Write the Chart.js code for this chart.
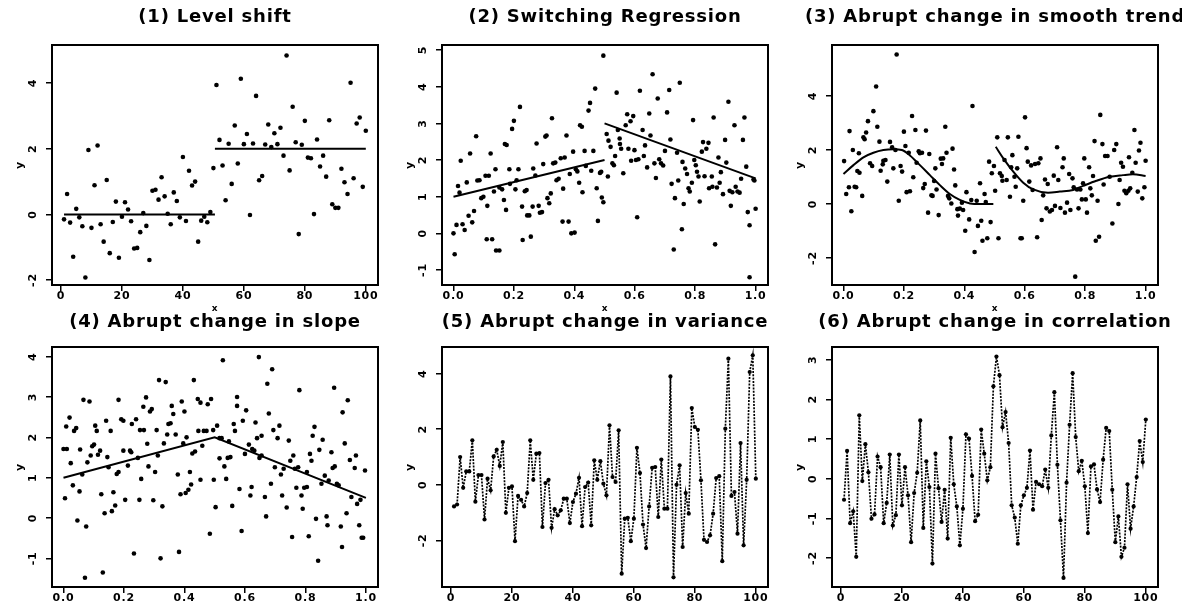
<!DOCTYPE html>
<html>
<head>
<meta charset="utf-8">
<script src="https://cdn.jsdelivr.net/npm/chart.js@4.4.1/dist/chart.umd.min.js"></script>
<style>
  html, body { margin: 0; padding: 0; background: #fff; width: 1182px; height: 608px; overflow: hidden; position: relative; }
  canvas { position: absolute; }
</style>
</head>
<body>
<canvas id="p1"></canvas>
<canvas id="p2"></canvas>
<canvas id="p3"></canvas>
<canvas id="p4"></canvas>
<canvas id="p5"></canvas>
<canvas id="p6"></canvas>
<script>
// ---------- titles ----------
const titles = [
  '(1) Level shift',
  '(2) Switching Regression',
  '(3) Abrupt change in smooth trend',
  '(4) Abrupt change in slope',
  '(5) Abrupt change in variance',
  '(6) Abrupt change in correlation'
];

// ---------- tick values and labels ----------
const xTicksIndex = [0, 20, 40, 60, 80, 100];
const xLabelsIndex = ['0', '20', '40', '60', '80', '100'];
const xTicksUnit = [0, 0.2, 0.4, 0.6, 0.8, 1.0];
const xLabelsUnit = ['0.0', '0.2', '0.4', '0.6', '0.8', '1.0'];
const yTicks1 = [-2, 0, 2, 4];
const yTicks2 = [-1, 0, 1, 2, 3, 4, 5];
const yTicks3 = [-2, 0, 2, 4];
const yTicks4 = [-1, 0, 1, 2, 3, 4];
const yTicks5 = [-2, 0, 2, 4];
const yTicks6 = [-2, -1, 0, 1, 2, 3];

// ---------- (1) level shift: y at t = 1..100 ----------
const y1 = [
  -0.15, 0.62, -0.25, -1.29, 0.17, -0.09, -0.36, -1.92, 1.96, -0.41,
  0.89, 2.10, -0.30, -0.83, 1.05, -1.18, -0.23, 0.39, -1.32, -0.07,
  0.37, 0.15, -0.21, -1.04, -1.02, -0.54, 0.04, -0.35, -1.39, 0.72,
  0.75, 0.45, 1.13, 0.55, 0.02, -0.30, 0.67, 0.41, -0.09, 1.75,
  -0.20, 1.33, 0.88, 1.00, -0.83, -0.19, -0.07, -0.24, 0.07, 1.41,
  3.94, 2.27, 1.49, 0.43, 2.15, 0.93, 2.71, 1.55, 4.13, 2.14,
  2.45, -0.02, 2.16, 3.61, 1.04, 1.17, 2.13, 2.74, 2.05, 2.47,
  2.14, 2.64, 1.79, 4.84, 1.34, 3.28, 2.20, -0.60, 2.12, 2.85,
  1.73, 1.71, 0.01, 2.28, 1.46, 1.79, 1.15, 2.87, 0.31, 0.20,
  0.20, 1.39, 0.98, 0.62, 4.01, 1.10, 2.77, 2.95, 0.84, 2.55
];
const fit1aX = [1, 50.5];
const fit1aY = [0, 0];
const fit1bX = [50.5, 100];
const fit1bY = [2, 2];

// ---------- (2) switching regression ----------
const x2 = [
  0.000, 0.004, 0.010, 0.015, 0.020, 0.024, 0.030, 0.037, 0.044, 0.050,
  0.055, 0.062, 0.068, 0.075, 0.079, 0.086, 0.092, 0.099, 0.106, 0.110,
  0.112, 0.117, 0.123, 0.128, 0.134, 0.139, 0.141, 0.152, 0.152, 0.161,
  0.167, 0.170, 0.174, 0.176, 0.185, 0.187, 0.194, 0.200, 0.205, 0.209,
  0.215, 0.220, 0.227, 0.229, 0.236, 0.242, 0.244, 0.251, 0.256, 0.262,
  0.264, 0.271, 0.275, 0.282, 0.286, 0.293, 0.297, 0.304, 0.308, 0.311,
  0.317, 0.322, 0.326, 0.330, 0.337, 0.341, 0.348, 0.355, 0.361, 0.363,
  0.368, 0.374, 0.381, 0.385, 0.390, 0.396, 0.401, 0.405, 0.410, 0.416,
  0.419, 0.425, 0.427, 0.434, 0.438, 0.447, 0.452, 0.456, 0.463, 0.469,
  0.474, 0.478, 0.485, 0.489, 0.491, 0.496, 0.496, 0.507, 0.511, 0.513,
  0.520, 0.526, 0.531, 0.535, 0.540, 0.544, 0.550, 0.551, 0.555, 0.562,
  0.570, 0.575, 0.579, 0.586, 0.588, 0.595, 0.599, 0.604, 0.608, 0.612,
  0.617, 0.626, 0.630, 0.634, 0.641, 0.648, 0.652, 0.659, 0.665, 0.670,
  0.676, 0.681, 0.687, 0.694, 0.700, 0.707, 0.714, 0.718, 0.722, 0.729,
  0.733, 0.740, 0.744, 0.749, 0.756, 0.758, 0.762, 0.767, 0.773, 0.778,
  0.782, 0.789, 0.793, 0.797, 0.802, 0.806, 0.811, 0.815, 0.822, 0.826,
  0.831, 0.837, 0.844, 0.846, 0.855, 0.857, 0.861, 0.866, 0.872, 0.877,
  0.881, 0.885, 0.892, 0.899, 0.903, 0.910, 0.914, 0.918, 0.923, 0.930,
  0.934, 0.940, 0.947, 0.952, 0.958, 0.963, 0.969, 0.974, 0.980, 0.980,
  0.993, 0.996, 1.000
];
const y2 = [
  0.00, -0.57, 0.23, 1.29, 1.11, 1.98, 0.25, 0.09, 1.39, 0.48,
  2.18, 0.30, 0.61, 2.65, 1.44, 1.45, 0.96, 1.00, 1.57, -0.16,
  0.75, 1.57, 2.18, -0.16, 1.14, 1.75, -0.47, -0.47, 1.25, 1.20,
  0.91, 2.44, 0.64, 2.41, 1.75, 1.35, 2.85, 3.07, 1.20, 1.45,
  1.75, 3.45, 0.73, -0.18, 1.15, 1.18, 0.49, 0.49, -0.09, 0.73,
  1.77, 1.58, 2.45, 0.75, 0.56, 0.58, 1.89, 2.64, 2.67, 0.96,
  0.82, 1.09, 3.14, 1.91, 1.93, 1.45, 1.49, 2.05, 0.32, 1.22,
  2.07, 2.67, 0.32, 1.62, 0.00, 2.23, 0.02, 1.75, 1.69, 1.38,
  2.95, 2.91, 1.12, 2.25, 1.84, 3.35, 3.56, 1.71, 2.25, 3.95,
  1.23, 0.34, 1.65, 1.68, 0.98, 0.85, 4.85, 2.71, 1.55, 2.53,
  2.36, 1.91, 1.86, 2.11, 3.84, 2.82, 2.59, 2.44, 2.31, 1.64,
  2.95, 3.25, 2.31, 3.06, 1.98, 3.20, 2.27, 2.00, 0.44, 2.02,
  3.89, 2.82, 2.11, 2.40, 1.80, 3.27, 2.67, 4.34, 1.91, 1.51,
  3.68, 2.02, 1.91, 1.85, 2.25, 3.30, 3.91, 2.56, 1.35, -0.44,
  0.96, 2.20, 1.44, 4.11, 0.11, 1.95, 0.80, 1.77, 1.62, 1.23,
  1.14, 1.38, 3.09, 2.00, 1.86, 1.68, 1.55, 0.87, 2.23, 2.49,
  1.56, 2.31, 2.47, 1.23, 1.55, 1.27, 3.16, -0.30, 1.25, 2.07,
  1.38, 1.67, 1.07, 2.55, 1.93, 3.59, 1.16, 0.75, 1.12, 2.95,
  1.27, 1.14, 1.11, 1.49, 2.55, 3.16, 1.82, 0.58, 0.22, -1.20,
  1.47, 1.44, 0.67
];
const fit2aX = [0, 0.5];
const fit2aY = [1, 2];
const fit2bX = [0.5, 1];
const fit2bY = [3, 1.5];

// ---------- (3) abrupt change in smooth trend ----------
const x3 = [
  0.002, 0.009, 0.018, 0.020, 0.026, 0.031, 0.037, 0.042, 0.046, 0.051,
  0.053, 0.062, 0.066, 0.070, 0.075, 0.081, 0.088, 0.095, 0.099, 0.108,
  0.112, 0.119, 0.123, 0.130, 0.132, 0.139, 0.145, 0.154, 0.161, 0.165,
  0.172, 0.176, 0.183, 0.189, 0.194, 0.200, 0.205, 0.209, 0.216, 0.220,
  0.227, 0.231, 0.238, 0.242, 0.249, 0.253, 0.260, 0.264, 0.269, 0.273,
  0.280, 0.284, 0.291, 0.295, 0.300, 0.304, 0.308, 0.315, 0.322, 0.326,
  0.330, 0.337, 0.341, 0.346, 0.350, 0.357, 0.361, 0.366, 0.370, 0.377,
  0.379, 0.385, 0.392, 0.396, 0.403, 0.407, 0.416, 0.423, 0.427, 0.434,
  0.441, 0.445, 0.452, 0.456, 0.460, 0.467, 0.471, 0.476, 0.482, 0.487,
  0.491, 0.498, 0.502, 0.509, 0.513, 0.518, 0.524, 0.526, 0.533, 0.540,
  0.544, 0.551, 0.555, 0.559, 0.566, 0.570, 0.575, 0.579, 0.586, 0.590,
  0.595, 0.601, 0.606, 0.610, 0.615, 0.621, 0.626, 0.634, 0.641, 0.645,
  0.652, 0.656, 0.661, 0.667, 0.672, 0.676, 0.683, 0.690, 0.696, 0.700,
  0.707, 0.711, 0.718, 0.725, 0.729, 0.733, 0.740, 0.747, 0.751, 0.758,
  0.762, 0.767, 0.773, 0.778, 0.784, 0.789, 0.793, 0.797, 0.802, 0.806,
  0.813, 0.817, 0.822, 0.826, 0.831, 0.835, 0.841, 0.846, 0.850, 0.857,
  0.861, 0.866, 0.874, 0.881, 0.890, 0.896, 0.903, 0.910, 0.914, 0.919,
  0.925, 0.930, 0.936, 0.943, 0.945, 0.949, 0.956, 0.963, 0.967, 0.974,
  0.978, 0.983, 0.989, 0.996, 1.000
];
const y3 = [
  1.59, 0.37, 0.62, 2.70, -0.27, 2.00, 0.64, 0.62, 1.22, 1.88,
  1.16, 0.30, 2.47, 2.40, 2.65, 3.07, 1.51, 1.41, 3.44, 4.35,
  2.86, 2.31, 1.23, 1.47, 1.60, 1.63, 0.83, 2.30, 2.10, 1.32,
  2.00, 5.54, 0.12, 1.41, 1.20, 2.68, 2.15, 0.44, 1.90, 0.47,
  3.26, 0.99, 2.74, 1.53, 1.95, 1.88, 1.90, 0.59, 0.74, 2.72,
  -0.32, 1.85, 0.32, 0.30, 0.85, 1.32, 0.54, -0.41, 1.68, 1.48,
  1.69, 2.86, 1.90, 0.30, 0.21, 0.02, 2.05, 1.28, 0.69, -0.19,
  -0.43, -0.17, 0.05, -0.22, -0.99, 0.44, -0.57, 0.15, 3.63, -1.78,
  0.12, -0.81, 0.77, -0.62, -1.36, 0.37, 0.07, -1.27, 1.57, -0.67,
  1.14, 1.41, 0.49, 2.47, -1.27, 1.14, 1.04, 0.86, 1.63, 0.89,
  2.47, 0.27, 1.36, 1.81, 1.01, 0.64, 1.32, 2.49, -1.27, -1.27,
  0.12, 3.21, 2.07, 1.57, 0.83, 1.43, 0.52, 1.48, -1.23, 1.51,
  1.69, -0.59, 0.32, 0.91, -0.16, 0.74, -0.28, -0.22, 1.05, -0.07,
  2.10, 0.89, -0.15, 1.36, 1.69, -0.32, 0.05, 1.11, -0.22, 0.95,
  0.62, -2.69, 0.54, -0.16, 0.54, 0.17, 0.77, 1.69, 0.17, -0.32,
  1.36, 0.58, 0.32, 1.04, 2.33, -1.36, 0.12, -1.21, 3.30, 2.22,
  0.72, 1.78, 1.78, 1.01, -0.72, 2.00, 2.22, 0.00, 0.89, 1.53,
  1.38, 0.49, 0.40, 0.49, 1.73, 0.58, 1.16, 2.74, 1.53, 0.46,
  1.98, 2.27, 0.21, 0.62, 1.60
];
const trend3aX = [0, 0.033, 0.066, 0.099, 0.132, 0.165, 0.193, 0.22, 0.253, 0.286, 0.319, 0.352, 0.385, 0.419, 0.452, 0.496];
const trend3aY = [1.11, 1.44, 1.73, 1.90, 2.00, 2.03, 2.00, 1.80, 1.44, 1.07, 0.70, 0.37, 0.15, 0.02, 0.00, 0.00];
const trend3bX = [0.504, 0.529, 0.562, 0.595, 0.628, 0.677, 0.716, 0.76, 0.793, 0.837, 0.881, 0.925, 0.958, 1.0];
const trend3bY = [2.12, 1.69, 1.20, 0.79, 0.54, 0.42, 0.46, 0.52, 0.67, 0.86, 1.01, 1.07, 1.10, 1.04];

// ---------- (4) abrupt change in slope ----------
const x4 = [
  0.000, 0.005, 0.009, 0.011, 0.020, 0.024, 0.031, 0.035, 0.042, 0.046,
  0.053, 0.055, 0.062, 0.066, 0.071, 0.075, 0.079, 0.086, 0.090, 0.095,
  0.101, 0.105, 0.110, 0.114, 0.121, 0.125, 0.130, 0.136, 0.141, 0.145,
  0.149, 0.156, 0.160, 0.165, 0.171, 0.176, 0.182, 0.182, 0.191, 0.198,
  0.198, 0.204, 0.213, 0.220, 0.224, 0.226, 0.233, 0.240, 0.246, 0.251,
  0.253, 0.257, 0.264, 0.266, 0.273, 0.277, 0.281, 0.286, 0.292, 0.297,
  0.303, 0.308, 0.312, 0.316, 0.321, 0.327, 0.332, 0.338, 0.343, 0.347,
  0.354, 0.358, 0.363, 0.371, 0.378, 0.382, 0.387, 0.391, 0.396, 0.400,
  0.404, 0.407, 0.413, 0.418, 0.422, 0.426, 0.431, 0.435, 0.444, 0.446,
  0.453, 0.453, 0.459, 0.464, 0.473, 0.477, 0.484, 0.488, 0.495, 0.497,
  0.503, 0.508, 0.516, 0.516, 0.523, 0.527, 0.532, 0.538, 0.543, 0.547,
  0.552, 0.558, 0.563, 0.567, 0.574, 0.574, 0.582, 0.589, 0.593, 0.600,
  0.604, 0.613, 0.618, 0.622, 0.624, 0.631, 0.635, 0.640, 0.646, 0.648,
  0.655, 0.655, 0.666, 0.670, 0.674, 0.679, 0.686, 0.690, 0.694, 0.699,
  0.708, 0.714, 0.719, 0.723, 0.728, 0.738, 0.745, 0.750, 0.756, 0.760,
  0.765, 0.770, 0.776, 0.780, 0.787, 0.791, 0.796, 0.805, 0.805, 0.811,
  0.815, 0.820, 0.824, 0.830, 0.835, 0.842, 0.846, 0.853, 0.857, 0.864,
  0.870, 0.873, 0.877, 0.886, 0.890, 0.895, 0.897, 0.904, 0.910, 0.917,
  0.921, 0.923, 0.930, 0.936, 0.940, 0.947, 0.952, 0.963, 0.967, 0.971,
  0.978, 0.982, 0.986, 0.991, 0.997
];
const y4 = [
  1.71, 0.49, 2.27, 1.71, 2.49, 1.36, 0.81, 2.16, 2.23, -0.06,
  0.66, 1.70, 1.08, 2.93, -1.48, -0.21, 1.38, 2.89, 1.55, 1.78,
  1.82, 2.29, 2.16, 1.57, 1.67, 0.59, -1.35, 0.12, 2.41, 1.51,
  1.26, 2.16, 0.17, 0.64, 0.31, 1.09, 1.14, 2.93, 2.45, 2.41,
  1.67, 0.45, 1.30, 1.67, 1.63, 2.33, -0.88, 2.45, 1.49, 0.45,
  2.18, 0.97, 2.76, 2.18, 2.99, 1.84, 1.28, 2.64, 2.70, 0.44,
  1.14, 2.18, 1.55, 3.42, -1.00, 0.29, 1.85, 3.37, 2.07, 2.33,
  2.35, 2.78, 2.58, 2.07, 1.08, -0.84, 0.59, 2.89, 1.85, 2.64,
  0.62, 2.00, 0.70, 1.14, 0.83, 1.60, 3.42, 1.65, 2.95, 2.16,
  2.86, 0.95, 1.79, 2.16, 2.16, 2.82, -0.39, 2.95, 2.18, 0.95,
  0.27, 2.29, 1.98, 1.48, 1.98, 3.91, 1.28, 0.97, 1.49, 1.90,
  1.51, 0.30, 2.33, 2.16, 3.00, 2.78, 0.72, -0.32, 2.41, 1.59,
  2.67, 1.82, 0.56, 0.77, 1.71, 1.67, 2.37, 1.98, 3.99, 1.49,
  1.55, 2.04, 0.52, 0.04, 3.33, 2.59, 0.85, 3.69, 2.18, 1.26,
  1.98, 2.29, 1.08, 0.56, 1.22, 0.26, 1.92, 1.42, -0.47, 1.55,
  1.22, 0.75, 1.26, 3.17, 0.56, 0.23, 0.75, 0.77, 1.14, -0.45,
  1.59, 1.42, 2.04, 2.26, -0.02, -1.06, 1.69, 0.85, 1.94, 1.05,
  0.04, -0.18, 0.93, 1.63, 1.24, 3.23, 1.28, 0.85, 0.81, -0.21,
  -0.72, 2.62, 1.85, 0.12, 2.92, 1.44, 0.52, 1.24, 1.55, 0.35,
  -0.18, 0.45, -0.49, -0.49, 1.18
];
const fit4X = [0, 0.5, 1];
const fit4Y = [1, 2, 0.5];

// ---------- (5) abrupt change in variance: y at t = 1..100 ----------
const y5 = [
  -0.78, -0.71, 1.00, -0.11, 0.48, 0.48, 1.60, -0.61, 0.35, 0.35,
  -1.25, 0.22, -0.20, 1.02, 1.26, 0.68, 1.54, -1.01, -0.11, -0.06,
  -2.03, -0.40, -0.54, -0.78, -0.30, 1.60, 0.18, 1.12, 1.14, -1.52,
  0.06, 0.18, -1.55, -0.88, -1.10, -0.92, -0.50, -0.50, -1.38, -0.62,
  -0.32, 0.25, -1.49, -0.08, 0.08, -1.46, 0.88, 0.18, 0.85, 0.04,
  -0.38, 2.14, 0.28, 0.10, 1.96, -3.20, -1.22, -1.19, -2.03, -1.22,
  1.33, 0.42, -1.43, -2.28, -0.78, 0.61, 0.64, -1.16, 0.91, -0.86,
  -0.86, 3.90, -3.33, 0.00, 0.70, -2.24, -0.30, -1.04, 2.76, 2.08,
  1.98, 0.16, -1.98, -2.06, -1.82, -1.04, 0.24, 0.31, -2.75, 2.02,
  4.54, -0.40, -0.26, -1.76, 1.50, -2.18, 0.18, 4.06, 4.66, 0.22
];

// ---------- (6) abrupt change in correlation: y at t = 1..100 ----------
const y6 = [
  -0.53, 0.70, -1.12, -0.82, -1.97, 1.60, -0.06, 0.87, 0.16, -1.01,
  -0.90, 0.56, 0.29, -1.12, -0.61, 0.61, -1.18, -0.92, 0.61, -0.67,
  0.29, -0.42, -1.60, -0.36, 0.15, 1.47, -1.24, 0.44, -0.21, -2.14,
  0.63, -0.24, -1.09, -0.28, -1.51, 1.03, -0.14, -0.70, -1.68, -0.76,
  1.12, 1.01, 0.07, -1.07, -0.91, 1.24, 0.63, -0.04, 0.29, 2.33,
  3.08, 2.61, 1.30, 1.68, 0.90, -0.67, -0.98, -1.64, -0.67, -0.42,
  -0.23, 0.71, -0.78, -0.08, -0.14, -0.19, 0.23, -0.23, 1.09, 2.18,
  0.35, -1.05, -2.50, -0.10, 1.36, 2.66, 1.05, 0.19, 0.45, -0.19,
  -1.37, 0.31, 0.36, -0.27, -0.59, 0.48, 1.28, 1.20, -0.28, -1.60,
  -0.95, -1.97, -1.74, -0.14, -1.26, -0.70, 0.04, 0.95, 0.42, 1.49
];

// ---------- helpers ----------
const FONT = '"DejaVu Sans", "Liberation Sans", Arial, sans-serif';
const pairs = (xs, ys) => ys.map((y, i) => ({ x: xs[i], y }));
const indexed = ys => ys.map((y, i) => ({ x: i + 1, y }));

function scatterSet(points) {
  return { data: points, showLine: false, pointRadius: 2.3, pointBackgroundColor: '#000', pointBorderWidth: 0, pointStyle: 'circle' };
}
function fitSet(points, smooth) {
  return { data: points, showLine: true, borderColor: '#000', borderWidth: 2, pointRadius: 0, tension: smooth ? 0.4 : 0, cubicInterpolationMode: smooth ? 'monotone' : 'default', fill: false };
}
function dottedSeries(points) {
  return { data: points, showLine: true, borderColor: '#000', borderWidth: 1.7, borderDash: [2, 1.3], pointRadius: 2.1, pointBackgroundColor: '#000', pointBorderWidth: 0, tension: 0, fill: false };
}

// Box around the plotting region
const framePlugin = {
  id: 'frame',
  afterDatasetsDraw(chart) {
    const { ctx, chartArea: a } = chart;
    ctx.save();
    ctx.lineWidth = 2;
    ctx.strokeStyle = '#000';
    ctx.strokeRect(a.left, a.top, a.right - a.left, a.bottom - a.top);
    ctx.restore();
  }
};
// Slightly spaced lettering for the titles and tick labels
const spacingPlugin = {
  id: 'spacing',
  beforeDraw(chart) { chart.ctx.letterSpacing = '0.8px'; },
  afterDraw(chart) { chart.ctx.letterSpacing = '0px'; }
};

const AXIS_W = 52;   // left axis band (and a matching empty band on the right)
const PLOT_W = 326;
const X_AXIS_H = 30;

function makePanel(id, opts) {
  const canvas = document.getElementById(id);
  const width = AXIS_W * 2 + PLOT_W;
  canvas.width = width;
  canvas.height = opts.height;
  canvas.style.left = opts.left + 'px';
  canvas.style.top = opts.top + 'px';
  canvas.style.width = width + 'px';
  canvas.style.height = opts.height + 'px';

  const tickFont = { family: FONT, size: 11, weight: 'bold' };
  const grid = { display: true, drawOnChartArea: false, drawTicks: true, tickLength: 6, color: '#000', lineWidth: 1.5 };

  return new Chart(canvas, {
    type: 'scatter',
    data: { datasets: opts.datasets },
    plugins: [spacingPlugin, framePlugin],
    options: {
      responsive: false,
      animation: false,
      devicePixelRatio: 1,
      events: [],
      layout: { padding: 0 },
      plugins: {
        legend: { display: false },
        tooltip: { enabled: false },
        title: {
          display: true,
          text: opts.title,
          color: '#000',
          font: { family: FONT, size: 18, weight: 'bold', lineHeight: 1.2 },
          padding: { top: opts.titleTop, bottom: opts.titleBottom }
        }
      },
      scales: {
        x: {
          type: 'linear',
          position: 'bottom',
          min: opts.xMin, max: opts.xMax,
          afterBuildTicks: s => { s.ticks = opts.xTicks.map(v => ({ value: v })); },
          afterFit: s => { s.height = X_AXIS_H; },
          ticks: { font: tickFont, color: '#000', padding: -1, maxRotation: 0, autoSkip: false,
                   callback: (v, i) => opts.xLabels[i] },
          grid: grid,
          border: { display: false },
          title: { display: true, text: 'x', color: '#000', font: { family: FONT, size: 9, weight: 'bold' }, padding: { top: 0, bottom: 1 } }
        },
        y: {
          type: 'linear',
          position: 'left',
          min: opts.yMin, max: opts.yMax,
          afterBuildTicks: s => { s.ticks = opts.yTicks.map(v => ({ value: v })); },
          afterFit: s => { s.width = AXIS_W; },
          ticks: { font: tickFont, color: '#000', padding: 7, minRotation: 90, maxRotation: 90, crossAlign: 'center', autoSkip: false,
                   callback: v => String(v) },
          grid: grid,
          border: { display: false },
          title: { display: true, text: 'y', color: '#000', font: { family: FONT, size: 11, weight: 'bold' }, padding: { top: 14, bottom: 0 } }
        },
        yRight: {
          type: 'linear',
          position: 'right',
          display: true,
          afterFit: s => { s.width = AXIS_W; },
          ticks: { display: false },
          grid: { display: false },
          border: { display: false }
        }
      }
    }
  });
}

// ---------- layout ----------
const row1 = { top: 0, height: 315, titleTop: 6.2, titleBottom: 17.2 };
const row2 = { top: 300, height: 317, titleTop: 11.2, titleBottom: 14.2 };
const colLeft = [0, 390, 780];

makePanel('p1', Object.assign({}, row1, {
  left: colLeft[0], title: titles[0],
  xMin: -2.95, xMax: 104.0, yMin: -2.15, yMax: 5.16,
  xTicks: xTicksIndex, xLabels: xLabelsIndex, yTicks: yTicks1,
  datasets: [scatterSet(indexed(y1)), fitSet(pairs(fit1aX, fit1aY)), fitSet(pairs(fit1bX, fit1bY))]
}));

makePanel('p2', Object.assign({}, row1, {
  left: colLeft[1], title: titles[1],
  xMin: -0.038, xMax: 1.041, yMin: -1.41, yMax: 5.14,
  xTicks: xTicksUnit, xLabels: xLabelsUnit, yTicks: yTicks2,
  datasets: [scatterSet(pairs(x2, y2)), fitSet(pairs(fit2aX, fit2aY)), fitSet(pairs(fit2bX, fit2bY))]
}));

makePanel('p3', Object.assign({}, row1, {
  left: colLeft[2], title: titles[2],
  xMin: -0.038, xMax: 1.041, yMin: -3.0, yMax: 5.89,
  xTicks: xTicksUnit, xLabels: xLabelsUnit, yTicks: yTicks3,
  datasets: [scatterSet(pairs(x3, y3)), fitSet(pairs(trend3aX, trend3aY), true), fitSet(pairs(trend3bX, trend3bY), true)]
}));

makePanel('p4', Object.assign({}, row2, {
  left: colLeft[0], title: titles[3],
  xMin: -0.038, xMax: 1.04, yMin: -1.71, yMax: 4.24,
  xTicks: xTicksUnit, xLabels: xLabelsUnit, yTicks: yTicks4,
  datasets: [scatterSet(pairs(x4, y4)), fitSet(pairs(fit4X, fit4Y))]
}));

makePanel('p5', Object.assign({}, row2, {
  left: colLeft[1], title: titles[4],
  xMin: -2.95, xMax: 104.0, yMin: -3.68, yMax: 4.96,
  xTicks: xTicksIndex, xLabels: xLabelsIndex, yTicks: yTicks5,
  datasets: [dottedSeries(indexed(y5))]
}));

makePanel('p6', Object.assign({}, row2, {
  left: colLeft[2], title: titles[5],
  xMin: -2.95, xMax: 104.0, yMin: -2.73, yMax: 3.32,
  xTicks: xTicksIndex, xLabels: xLabelsIndex, yTicks: yTicks6,
  datasets: [dottedSeries(indexed(y6))]
}));
</script>
</body>
</html>
